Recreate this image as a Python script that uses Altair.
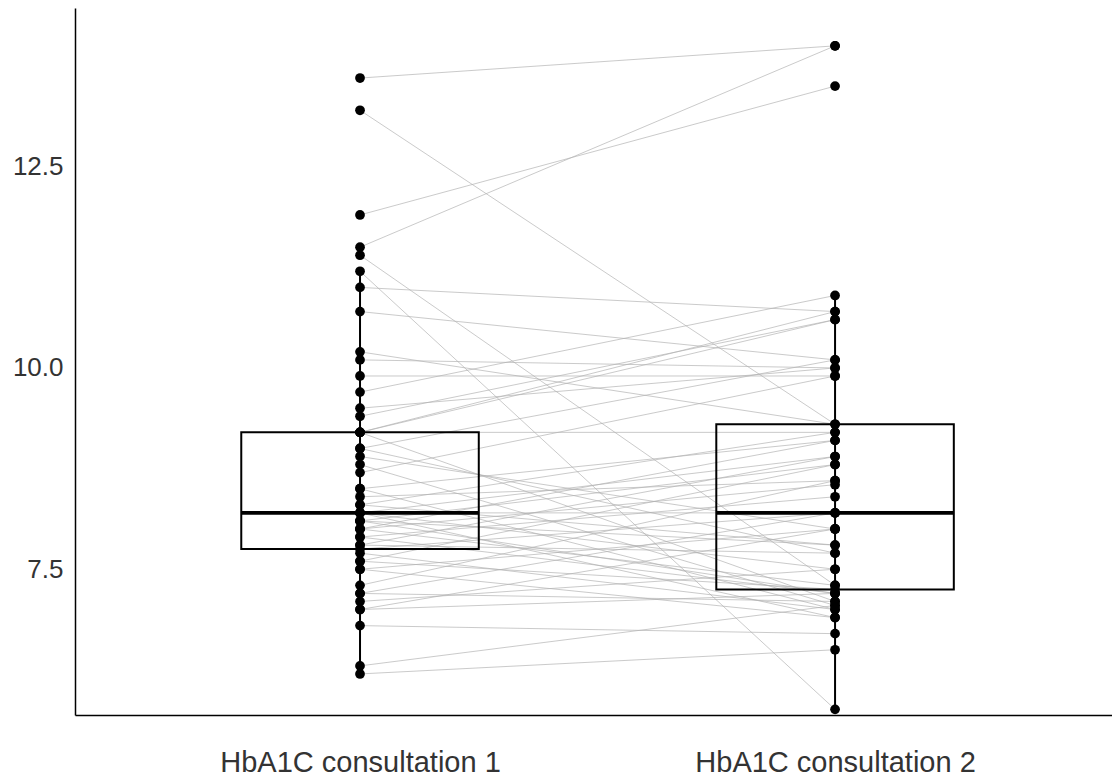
import altair as alt
import pandas as pd

# Paired HbA1C values per patient (consultation 1, consultation 2)
hba1c_1 = [13.6, 13.2, 11.9, 11.5, 11.4, 11.2, 11.0, 10.7, 10.2, 10.1,
           9.9, 9.7, 9.5, 9.4, 9.2, 9.2, 9.2, 9.2, 9.0, 9.0,
           8.9, 8.8, 8.7, 8.5, 8.5, 8.4, 8.3, 8.3, 8.2, 8.2,
           8.2, 8.2, 8.1, 8.1, 8.1, 8.0, 8.0, 8.0, 7.9, 7.9,
           7.8, 7.8, 7.75, 7.7, 7.6, 7.6, 7.5, 7.5, 7.3, 7.2,
           7.2, 7.1, 7.0, 7.0, 6.8, 6.3, 6.2]
hba1c_2 = [14.0, 9.3, 13.5, 14.0, 7.3, 5.76, 10.7, 10.1, 9.3, 10.0,
           9.9, 10.9, 10.0, 10.6, 10.6, 10.7, 9.2, 7.1, 10.1, 7.7,
           8.0, 7.05, 9.9, 9.1, 7.0, 8.6, 7.8, 9.2, 8.9, 7.5,
           8.2, 6.9, 8.8, 7.2, 7.8, 9.1, 7.3, 8.55, 8.4, 7.2,
           8.9, 7.7, 8.2, 7.0, 8.8, 7.25, 8.0, 6.9, 8.6, 7.1,
           8.2, 7.5, 7.2, 8.0, 6.7, 7.05, 6.5]
visit_labels = ["HbA1C consultation 1", "HbA1C consultation 2"]
y_ticks = [7.5, 10.0, 12.5]

rows = []
for i, (a, b) in enumerate(zip(hba1c_1, hba1c_2)):
    rows.append({"patient": i, "visit": 1, "value": a})
    rows.append({"patient": i, "visit": 2, "value": b})
df = pd.DataFrame(rows)

xscale = alt.Scale(domain=[0.4, 2.583], nice=False, zero=False)
yscale = alt.Scale(domain=[5.69, 14.47], nice=False, zero=False)

label_expr = f"datum.value == 1 ? '{visit_labels[0]}' : '{visit_labels[1]}'"

xaxis = alt.Axis(values=[1, 2], labelExpr=label_expr, title=None, ticks=False,
                 grid=False, domainColor="black", domainWidth=1.5,
                 labelFontSize=29, labelColor="#333333", labelPadding=33,
                 labelFont="Liberation Sans", labelLimit=0)
yaxis = alt.Axis(values=y_ticks, format=".1f", title=None, ticks=False,
                 grid=False, domainColor="black", domainWidth=1.5,
                 labelFontSize=26, labelColor="#333333", labelPadding=12,
                 labelFont="Liberation Sans")

base = alt.Chart(df)

lines = base.mark_line(color="#b0b0b0", strokeWidth=0.9, opacity=0.75).encode(
    x=alt.X("visit:Q", scale=xscale, axis=xaxis),
    y=alt.Y("value:Q", scale=yscale, axis=yaxis),
    detail="patient:N",
)

whisk = base.transform_joinaggregate(
    q1="q1(value)", q3="q3(value)", groupby=["visit"]
).transform_calculate(
    lo="datum.q1 - 1.5*(datum.q3 - datum.q1)",
    hi="datum.q3 + 1.5*(datum.q3 - datum.q1)",
).transform_filter(
    "datum.value >= datum.lo && datum.value <= datum.hi"
).transform_aggregate(
    wmin="min(value)", wmax="max(value)", groupby=["visit"]
).mark_rule(color="black", strokeWidth=2).encode(
    x=alt.X("visit:Q", scale=xscale),
    y=alt.Y("wmin:Q", scale=yscale),
    y2="wmax:Q",
)

stats = base.transform_aggregate(
    q1="q1(value)", q3="q3(value)", med="median(value)", groupby=["visit"]
).transform_calculate(
    xl="datum.visit - 0.25", xr="datum.visit + 0.25"
)

box = stats.mark_rect(fillOpacity=0, stroke="black", strokeWidth=2).encode(
    x=alt.X("xl:Q", scale=xscale),
    x2="xr:Q",
    y=alt.Y("q1:Q", scale=yscale),
    y2="q3:Q",
)

median = stats.mark_rule(color="black", strokeWidth=3.8).encode(
    x=alt.X("xl:Q", scale=xscale),
    x2="xr:Q",
    y=alt.Y("med:Q", scale=yscale),
)

points = base.mark_circle(size=95, color="black", opacity=1).encode(
    x=alt.X("visit:Q", scale=xscale),
    y=alt.Y("value:Q", scale=yscale),
)

chart = alt.layer(lines, whisk, box, median, points).properties(
    width=1037, height=707,
    background="white",
    autosize=alt.AutoSizeParams(type="none"),
    padding={"left": 75, "top": 8, "right": 0, "bottom": 63},
).configure_view(strokeWidth=0, stroke="transparent")

chart.save("out.html", embed_options={"renderer": "svg", "actions": False})
